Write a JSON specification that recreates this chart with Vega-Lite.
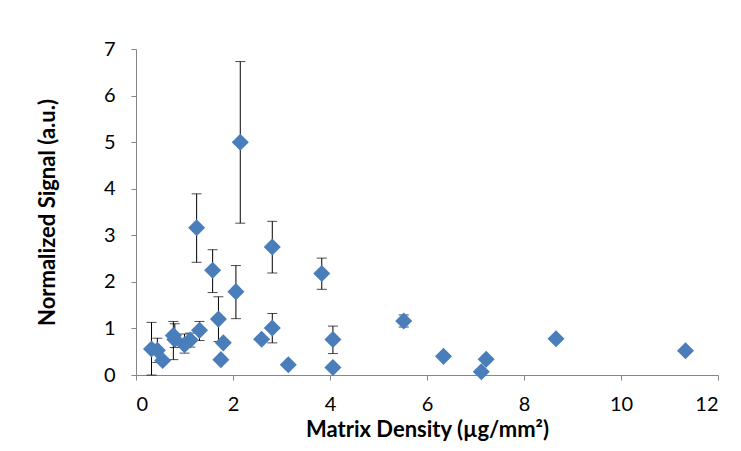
{
  "$schema": "https://vega.github.io/schema/vega-lite/v6.json",
  "width": 582,
  "height": 326,
  "autosize": "none",
  "padding": {"left": 136, "top": 49, "right": 23, "bottom": 76},
  "background": "white",
  "config": {
    "view": {"stroke": null},
    "font": "Lato",
    "axis": {
      "grid": false,
      "domainColor": "#868686",
      "tickColor": "#868686",
      "domainWidth": 1,
      "tickWidth": 1,
      "tickSize": 5,
      "labelFont": "Lato",
      "labelFontSize": 20,
      "labelColor": "#000000",
      "titleFont": "Lato",
      "titleFontSize": 22,
      "titleFontWeight": "bold",
      "titleColor": "#000000"
    }
  },
  "data": {
    "values": [
      {"x": 0.32, "y": 0.56, "lo": 0.0, "hi": 1.13},
      {"x": 0.44, "y": 0.53, "lo": 0.27, "hi": 0.79},
      {"x": 0.55, "y": 0.31, "lo": null, "hi": null},
      {"x": 0.77, "y": 0.85, "lo": 0.33, "hi": 1.15},
      {"x": 0.80, "y": 0.76, "lo": 0.59, "hi": 1.10},
      {"x": 1.00, "y": 0.65, "lo": 0.47, "hi": 0.88},
      {"x": 1.12, "y": 0.75, "lo": 0.60, "hi": 0.90},
      {"x": 1.31, "y": 0.96, "lo": 0.74, "hi": 1.15},
      {"x": 1.25, "y": 3.16, "lo": 2.42, "hi": 3.89},
      {"x": 1.58, "y": 2.25, "lo": 1.77, "hi": 2.69},
      {"x": 1.70, "y": 1.20, "lo": 0.72, "hi": 1.68},
      {"x": 1.80, "y": 0.69, "lo": null, "hi": null},
      {"x": 1.75, "y": 0.33, "lo": null, "hi": null},
      {"x": 2.15, "y": 5.00, "lo": 3.26, "hi": 6.73},
      {"x": 2.06, "y": 1.79, "lo": 1.21, "hi": 2.35},
      {"x": 2.59, "y": 0.77, "lo": null, "hi": null},
      {"x": 2.81, "y": 2.75, "lo": 2.19, "hi": 3.30},
      {"x": 2.81, "y": 1.01, "lo": 0.69, "hi": 1.32},
      {"x": 3.14, "y": 0.22, "lo": null, "hi": null},
      {"x": 3.83, "y": 2.18, "lo": 1.84, "hi": 2.51},
      {"x": 4.06, "y": 0.76, "lo": 0.46, "hi": 1.05},
      {"x": 4.06, "y": 0.16, "lo": null, "hi": null},
      {"x": 5.52, "y": 1.16, "lo": 1.03, "hi": 1.29},
      {"x": 6.34, "y": 0.40, "lo": null, "hi": null},
      {"x": 7.12, "y": 0.07, "lo": null, "hi": null},
      {"x": 7.22, "y": 0.34, "lo": null, "hi": null},
      {"x": 8.66, "y": 0.78, "lo": null, "hi": null},
      {"x": 11.33, "y": 0.52, "lo": null, "hi": null}
    ]
  },
  "encoding": {
    "x": {
      "field": "x",
      "type": "quantitative",
      "scale": {"domain": [0, 12], "nice": false, "zero": true},
      "axis": {"values": [0, 2, 4, 6, 8, 10, 12], "title": "Matrix Density (µg/mm²)", "labelPadding": 14, "titlePadding": 5}
    }
  },
  "layer": [
    {
      "transform": [{"filter": "datum.lo != null"}],
      "mark": {"type": "errorbar", "ticks": {"size": 10, "color": "#000000", "strokeWidth": 1}, "rule": {"color": "#000000", "strokeWidth": 1}},
      "encoding": {
        "y": {
          "field": "lo",
          "type": "quantitative",
          "scale": {"domain": [0, 7], "nice": false},
          "axis": {"values": [0, 1, 2, 3, 4, 5, 6, 7], "title": "Normalized Signal (a.u.)", "labelPadding": 16, "titlePadding": 44}
        },
        "y2": {"field": "hi"}
      }
    },
    {
      "mark": {"type": "point", "shape": "diamond", "filled": true, "size": 290, "color": "#4A7EBB", "opacity": 1},
      "encoding": {
        "y": {
          "field": "y",
          "type": "quantitative",
          "scale": {"domain": [0, 7], "nice": false},
          "axis": {"values": [0, 1, 2, 3, 4, 5, 6, 7], "title": "Normalized Signal (a.u.)", "labelPadding": 16, "titlePadding": 44}
        }
      }
    }
  ]
}
